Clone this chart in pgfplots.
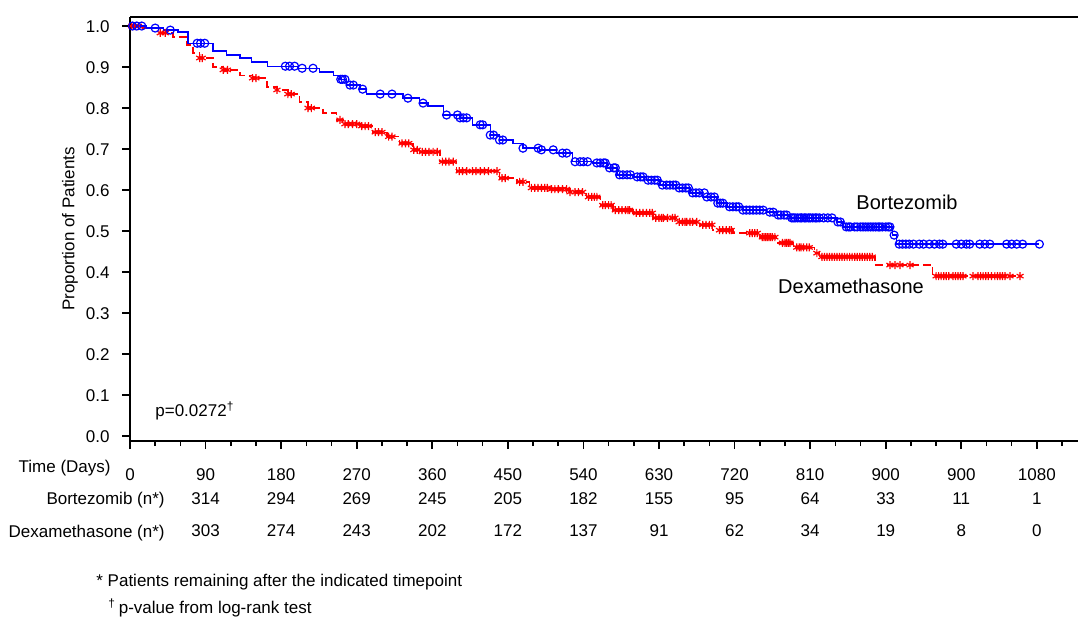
\documentclass[border=0pt]{standalone}
\usepackage{fontspec}
\setmainfont{Liberation Sans}
\usepackage{pgfplots}
\pgfplotsset{compat=1.18}
\definecolor{kmblue}{RGB}{0,0,255}
\definecolor{kmred}{RGB}{255,0,0}

\pgfplotstableread{
d s
0 1.0
20 0.995
40 0.99
57 0.985
69 0.958
99 0.939
115 0.929
131 0.922
145 0.912
164 0.902
200 0.897
226 0.888
242 0.880
250 0.870
258 0.856
274 0.846
282 0.834
325 0.824
345 0.812
355 0.805
373 0.783
393 0.776
408 0.759
429 0.734
440 0.722
456 0.714
468 0.702
488 0.698
508 0.690
527 0.669
551 0.666
568 0.654
580 0.637
599 0.632
615 0.624
631 0.612
651 0.605
667 0.593
682 0.583
699 0.568
711 0.559
730 0.551
758 0.546
770 0.539
786 0.532
842 0.522
849 0.510
908 0.490
913 0.468
1083 0.468
}\bortstep

\pgfplotstableread{
d s
3 1.0
8 1.0
14 1.0
30 0.995
48 0.99
80 0.958
84 0.958
89 0.958
185 0.902
190 0.902
196 0.902
205 0.897
218 0.897
251 0.870
253 0.870
256 0.870
262 0.856
266 0.856
277 0.846
298 0.834
312 0.834
331 0.824
349 0.812
377 0.783
390 0.783
393 0.776
397 0.776
401 0.776
417 0.759
420 0.759
429 0.734
433 0.734
440 0.722
444 0.722
468 0.702
486 0.702
490 0.698
504 0.698
515 0.690
520 0.690
530 0.669
536 0.669
540 0.669
545 0.669
556 0.666
560 0.666
564 0.666
566 0.666
571 0.654
576 0.654
578 0.654
583 0.637
587 0.637
592 0.637
596 0.637
604 0.632
608 0.632
611 0.632
617 0.624
621 0.624
625 0.624
628 0.624
634 0.612
639 0.612
643 0.612
647 0.612
650 0.612
654 0.605
658 0.605
662 0.605
665 0.605
670 0.593
674 0.593
678 0.593
684 0.593
687 0.583
692 0.583
696 0.583
700 0.568
703 0.568
706 0.568
714 0.559
718 0.559
722 0.559
725 0.559
730 0.551
734 0.551
738 0.551
742 0.551
746 0.551
750 0.551
754 0.551
762 0.546
766 0.546
772 0.539
775 0.539
779 0.539
782 0.539
788 0.532
790 0.532
792 0.532
795 0.532
798 0.532
800 0.532
803 0.532
805 0.532
808 0.532
810 0.532
813 0.532
816 0.532
818 0.532
821 0.532
826 0.532
831 0.532
836 0.532
843 0.522
846 0.522
853 0.510
856 0.510
858 0.510
863 0.510
866 0.510
870 0.510
873 0.510
876 0.510
879 0.510
882 0.510
885 0.510
888 0.510
891 0.510
893 0.510
896 0.510
900 0.510
903 0.510
905 0.510
910 0.490
916 0.468
920 0.468
924 0.468
928 0.468
933 0.468
940 0.468
945 0.468
952 0.468
958 0.468
964 0.468
968 0.468
984 0.468
990 0.468
996 0.468
1000 0.468
1012 0.468
1018 0.468
1024 0.468
1044 0.468
1050 0.468
1056 0.468
1063 0.468
1083 0.468
}\bortcens

\pgfplotstableread{
d s
0 1.0
15 0.995
36 0.983
51 0.973
68 0.954
75 0.934
83 0.922
99 0.900
111 0.893
131 0.880
146 0.873
163 0.851
175 0.844
188 0.834
202 0.815
212 0.800
230 0.788
246 0.771
254 0.761
274 0.756
289 0.741
306 0.730
321 0.714
337 0.698
345 0.693
369 0.669
389 0.646
440 0.629
461 0.620
476 0.605
500 0.602
524 0.595
544 0.583
560 0.563
575 0.551
599 0.544
623 0.532
651 0.522
679 0.515
694 0.502
718 0.495
750 0.485
770 0.471
790 0.460
815 0.446
821 0.437
887 0.417
956 0.390
1062 0.390
}\dexstep

\pgfplotstableread{
d s
2 1.0
6 1.0
10 1.0
36 0.983
42 0.983
83 0.922
86 0.922
111 0.893
116 0.893
146 0.873
150 0.873
175 0.844
188 0.834
192 0.834
212 0.800
216 0.800
250 0.771
256 0.761
260 0.761
265 0.761
270 0.761
276 0.756
280 0.756
284 0.756
292 0.741
296 0.741
300 0.741
308 0.730
312 0.730
324 0.714
328 0.714
332 0.714
338 0.698
342 0.698
348 0.693
352 0.693
356 0.693
361 0.693
366 0.693
372 0.669
376 0.669
380 0.669
385 0.669
392 0.646
396 0.646
401 0.646
408 0.646
412 0.646
417 0.646
422 0.646
427 0.646
437 0.646
443 0.629
447 0.629
464 0.620
468 0.620
478 0.605
482 0.605
486 0.605
490 0.605
494 0.605
497 0.605
502 0.602
506 0.602
510 0.602
515 0.602
520 0.602
524 0.595
530 0.595
534 0.595
539 0.595
546 0.583
550 0.583
553 0.583
556 0.583
563 0.563
566 0.563
570 0.563
573 0.563
578 0.551
582 0.551
586 0.551
590 0.551
593 0.551
595 0.551
603 0.544
607 0.544
611 0.544
615 0.544
619 0.544
622 0.544
626 0.532
630 0.532
633 0.532
635 0.532
640 0.532
646 0.532
649 0.532
654 0.522
658 0.522
661 0.522
663 0.522
667 0.522
670 0.522
675 0.522
682 0.515
686 0.515
690 0.515
693 0.515
702 0.502
706 0.502
710 0.502
714 0.502
716 0.502
738 0.495
741 0.495
744 0.495
747 0.495
753 0.485
755 0.485
757 0.485
759 0.485
761 0.485
763 0.485
765 0.485
768 0.485
777 0.471
780 0.471
782 0.471
784 0.471
786 0.471
794 0.460
797 0.460
799 0.460
802 0.460
806 0.460
809 0.460
818 0.446
824 0.437
827 0.437
830 0.437
833 0.437
836 0.437
839 0.437
842 0.437
845 0.437
848 0.437
851 0.437
854 0.437
857 0.437
860 0.437
863 0.437
866 0.437
869 0.437
872 0.437
875 0.437
878 0.437
881 0.437
884 0.437
905 0.417
911 0.417
917 0.417
929 0.417
960 0.390
963 0.390
966 0.390
969 0.390
972 0.390
975 0.390
980 0.390
983 0.390
986 0.390
989 0.390
992 0.390
1004 0.390
1010 0.390
1013 0.390
1016 0.390
1019 0.390
1022 0.390
1026 0.390
1030 0.390
1033 0.390
1036 0.390
1039 0.390
1042 0.390
1048 0.390
1060 0.390
}\dexcens

\begin{document}
\begin{tikzpicture}[font=\fontsize{8.5}{10}\selectfont]
\path (0,0) rectangle (540pt,309pt);
\begin{axis}[
  at={(65pt,88.5pt)}, anchor=south west,
  scale only axis, width=474pt, height=212pt,
  xmin=0, xmax=1129, ymin=-0.0122, ymax=1.022,
  axis x line*=bottom, axis y line*=left,
  axis line style={line width=1pt,-},
  xtick={0,90,180,270,360,450,540,630,720,810,900,990,1080},
  xticklabels={0,90,180,270,360,450,540,630,720,810,900,900,1080},
  minor xtick={30,60,120,150,210,240,300,330,390,420,480,510,570,600,660,690,750,780,840,870,930,960,1020,1050,1110},
  ytick={0,0.1,0.2,0.3,0.4,0.5,0.6,0.7,0.8,0.9,1.0},
  yticklabels={0.0,0.1,0.2,0.3,0.4,0.5,0.6,0.7,0.8,0.9,1.0},
  tick align=outside,
  major tick length=4pt, minor tick length=2.5pt,
  tick style={black, line width=0.8pt},
  every tick label/.append style={font=\fontsize{8.5}{10}\selectfont},
  xticklabel style={anchor=base, inner sep=0pt, yshift=-15.5pt},
  yticklabel style={anchor=base east, inner sep=0pt, xshift=-6pt, yshift=-3pt},
  clip=false,
]
\addplot[const plot, color=kmred, line width=0.7pt, dash pattern=on 4pt off 2pt] table[x=d,y=s] {\dexstep};
\addplot[only marks, mark=asterisk, mark size=2pt, color=kmred, mark options={line width=0.6pt}] table[x=d,y=s] {\dexcens};
\addplot[const plot, color=kmblue, line width=0.7pt] table[x=d,y=s] {\bortstep};
\addplot[only marks, mark=o, mark size=2pt, color=kmblue, mark options={line width=0.6pt}] table[x=d,y=s] {\bortcens};

\draw[line width=1pt] (axis description cs:0,1) -- (axis description cs:1,1);

\node[anchor=base, inner sep=0pt] at (axis cs:90,-0.166) {314};
\node[anchor=base, inner sep=0pt] at (axis cs:180,-0.166) {294};
\node[anchor=base, inner sep=0pt] at (axis cs:270,-0.166) {269};
\node[anchor=base, inner sep=0pt] at (axis cs:360,-0.166) {245};
\node[anchor=base, inner sep=0pt] at (axis cs:450,-0.166) {205};
\node[anchor=base, inner sep=0pt] at (axis cs:540,-0.166) {182};
\node[anchor=base, inner sep=0pt] at (axis cs:630,-0.166) {155};
\node[anchor=base, inner sep=0pt] at (axis cs:720,-0.166) {95};
\node[anchor=base, inner sep=0pt] at (axis cs:810,-0.166) {64};
\node[anchor=base, inner sep=0pt] at (axis cs:900,-0.166) {33};
\node[anchor=base, inner sep=0pt] at (axis cs:990,-0.166) {11};
\node[anchor=base, inner sep=0pt] at (axis cs:1080,-0.166) {1};

\node[anchor=base, inner sep=0pt] at (axis cs:90,-0.2463) {303};
\node[anchor=base, inner sep=0pt] at (axis cs:180,-0.2463) {274};
\node[anchor=base, inner sep=0pt] at (axis cs:270,-0.2463) {243};
\node[anchor=base, inner sep=0pt] at (axis cs:360,-0.2463) {202};
\node[anchor=base, inner sep=0pt] at (axis cs:450,-0.2463) {172};
\node[anchor=base, inner sep=0pt] at (axis cs:540,-0.2463) {137};
\node[anchor=base, inner sep=0pt] at (axis cs:630,-0.2463) {91};
\node[anchor=base, inner sep=0pt] at (axis cs:720,-0.2463) {62};
\node[anchor=base, inner sep=0pt] at (axis cs:810,-0.2463) {34};
\node[anchor=base, inner sep=0pt] at (axis cs:900,-0.2463) {19};
\node[anchor=base, inner sep=0pt] at (axis cs:990,-0.2463) {8};
\node[anchor=base, inner sep=0pt] at (axis cs:1080,-0.2463) {0};
\end{axis}

\node[rotate=90, anchor=center, inner sep=0pt] at (35pt,194.5pt) {Proportion of Patients};
\node[anchor=base east, inner sep=0pt] at (55.5pt,73pt) {Time (Days)};
\node[anchor=base east, inner sep=0pt] at (82.5pt,57pt) {Bortezomib (n*)};
\node[anchor=base east, inner sep=0pt] at (82.5pt,40.5pt) {Dexamethasone (n*)};
\node[anchor=base west, inner sep=0pt] at (77.5pt,101pt) {p=0.0272\textsuperscript{†}};
\node[anchor=center, inner sep=0pt, font=\fontsize{10}{12}\selectfont] at (453.5pt,208pt) {Bortezomib};
\node[anchor=center, inner sep=0pt, font=\fontsize{10}{12}\selectfont] at (425.5pt,166pt) {Dexamethasone};
\node[anchor=base west, inner sep=0pt] at (48pt,16pt) {* Patients remaining after the indicated timepoint};
\node[anchor=base west, inner sep=0pt] at (54pt,2.5pt) {\textsuperscript{†}\,p-value from log-rank test};
\end{tikzpicture}
\end{document}
